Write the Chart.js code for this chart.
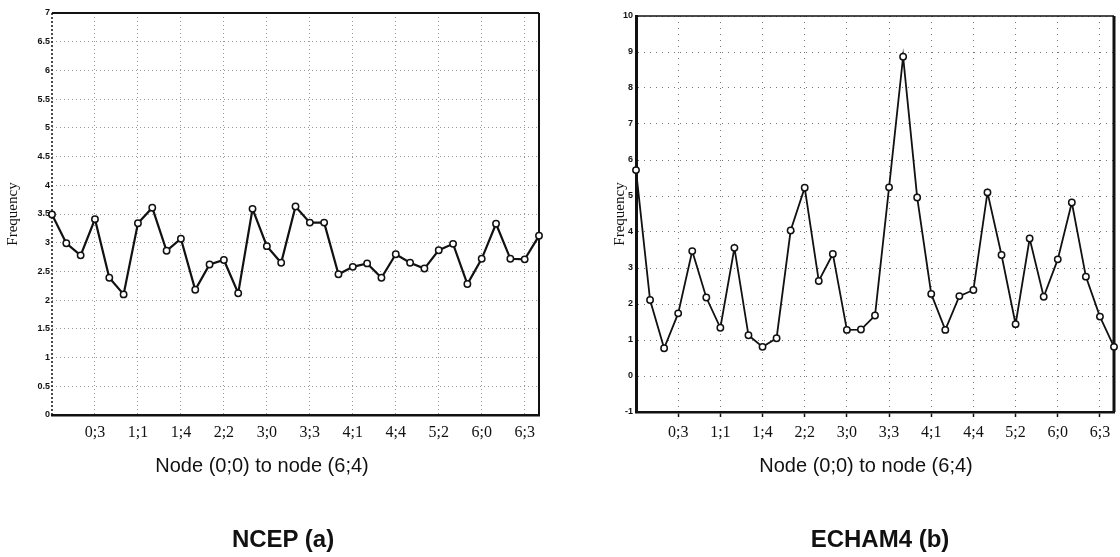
<!DOCTYPE html>
<html>
<head>
<meta charset="utf-8">
<script src="https://cdn.jsdelivr.net/npm/chart.js@4.4.0/dist/chart.umd.min.js"></script>
<style>
  body { margin: 0; background: #fff; width: 1120px; height: 557px; position: relative; overflow: hidden; font-family: 'Liberation Sans', Arial, sans-serif; color: #111; }
  .wykres { position: absolute; top: 0; width: 560px; height: 557px; }
  .tytul { position: absolute; transform: translateX(-50%); white-space: nowrap; font-size: 20px; line-height: 20px; }
  .podpis { position: absolute; transform: translateX(-50%); white-space: nowrap; font-size: 24px; line-height: 24px; font-weight: bold; }
</style>
</head>
<body>
<canvas id="wykresNcep" class="wykres" width="560" height="557" style="left:0"></canvas>
<canvas id="wykresEcham" class="wykres" width="560" height="557" style="left:560px"></canvas>
<div class="tytul" style="left:262px; top:455px">Node (0;0) to node (6;4)</div>
<div class="tytul" style="left:866px; top:455px">Node (0;0) to node (6;4)</div>
<div class="podpis" style="left:283px; top:527px">NCEP (a)</div>
<div class="podpis" style="left:880px; top:527px">ECHAM4 (b)</div>
<script>
// wezly SOM od (0;0) do (6;4)
var nodes = ['0;0', '0;1', '0;2', '0;3', '0;4',
             '1;0', '1;1', '1;2', '1;3', '1;4',
             '2;0', '2;1', '2;2', '2;3', '2;4',
             '3;0', '3;1', '3;2', '3;3', '3;4',
             '4;0', '4;1', '4;2', '4;3', '4;4',
             '5;0', '5;1', '5;2', '5;3', '5;4',
             '6;0', '6;1', '6;2', '6;3', '6;4'];
var tickNodes = ['0;3', '1;1', '1;4', '2;2', '3;0', '3;3', '4;1', '4;4', '5;2', '6;0', '6;3'];

var ncep = [3.49, 2.99, 2.78, 3.41, 2.39, 2.10, 3.34, 3.61, 2.86, 3.07,
            2.18, 2.62, 2.70, 2.12, 3.59, 2.94, 2.65, 3.63, 3.35, 3.35,
            2.45, 2.58, 2.64, 2.39, 2.80, 2.65, 2.55, 2.87, 2.98, 2.28,
            2.72, 3.33, 2.72, 2.71, 3.12];
var echam = [5.72, 2.11, 0.77, 1.74, 3.47, 2.18, 1.34, 3.56, 1.13, 0.81,
             1.05, 4.04, 5.23, 2.64, 3.39, 1.28, 1.29, 1.68, 5.24, 8.87,
             4.96, 2.28, 1.28, 2.22, 2.39, 5.10, 3.36, 1.44, 3.82, 2.20,
             3.24, 4.82, 2.76, 1.65, 0.81];

// ramka wykresu (gora, prawa, przerywana lewa)
var ramka = {
  id: 'ramka',
  beforeDatasetsDraw: function (chart, args, o) {
    var a = chart.chartArea, c = chart.ctx;
    c.save();
    c.strokeStyle = '#111';
    c.lineWidth = o.gora;
    c.beginPath(); c.moveTo(a.left, a.top); c.lineTo(a.right, a.top); c.stroke();
    c.lineWidth = o.prawa;
    c.beginPath(); c.moveTo(a.right, a.top); c.lineTo(a.right, a.bottom); c.stroke();
    if (o.lewa) {
      c.lineWidth = o.lewa;
      c.setLineDash([2, 2]);
      c.beginPath(); c.moveTo(a.left, a.top); c.lineTo(a.left, a.bottom); c.stroke();
    }
    c.restore();
  }
};

function czyEtykieta(i) {
  return tickNodes.indexOf(nodes[i]) >= 0;
}

function rysujWykres(id, dane, u) {
  return new Chart(document.getElementById(id), {
    type: 'line',
    data: {
      labels: nodes,
      datasets: [{
        data: dane,
        borderColor: '#111',
        borderWidth: u.linia,
        backgroundColor: '#fff',
        pointBackgroundColor: '#fff',
        pointBorderColor: '#111',
        pointBorderWidth: 1.5,
        pointRadius: 3.2,
        tension: 0,
        fill: false,
        clip: false
      }]
    },
    options: {
      responsive: false,
      animation: false,
      events: [],
      layout: { padding: u.padding },
      plugins: {
        legend: { display: false },
        tooltip: { enabled: false },
        ramka: u.ramka
      },
      scales: {
        x: {
          grid: {
            color: function (c) { return czyEtykieta(c.index) ? u.siatka : 'rgba(0,0,0,0)'; },
            lineWidth: 1,
            drawTicks: u.kreski > 0,
            tickLength: u.kreski,
            tickColor: function (c) { return czyEtykieta(c.index) ? '#111' : 'rgba(0,0,0,0)'; },
            tickWidth: 1.5,
            tickBorderDash: []
          },
          border: { color: '#111', width: 2.5, dash: u.kropki },
          ticks: {
            autoSkip: false,
            maxRotation: 0,
            minRotation: 0,
            padding: u.xPad,
            color: '#111',
            font: { family: 'Liberation Serif', size: 16 },
            callback: function (v, i) { return czyEtykieta(i) ? nodes[i] : ''; }
          },
          afterFit: function (s) { s.height = u.xWys; }
        },
        y: {
          min: u.min,
          max: u.max,
          grid: { color: u.siatka, lineWidth: 1, drawTicks: false },
          border: { display: u.osY > 0, color: '#111', width: u.osY || 1, dash: u.kropki },
          ticks: {
            stepSize: u.krok,
            padding: u.yPad,
            color: '#111',
            font: { family: 'Liberation Sans', size: 9, weight: 'bold' },
            callback: function (v) { return String(v); }
          },
          title: {
            display: true,
            text: 'Frequency',
            color: '#111',
            font: { family: 'Liberation Serif', size: 15 },
            padding: { top: u.tytPad, bottom: 0 }
          },
          afterFit: function (s) { s.width = u.yWys; }
        }
      }
    },
    plugins: [ramka]
  });
}

rysujWykres('wykresNcep', ncep, {
  padding: { left: 0, right: 21, top: 13, bottom: 0 },
  yWys: 52, xWys: 142, xPad: 8, yPad: 2, kreski: 0, tytPad: 4.5,
  min: 0, max: 7, krok: 0.5, osY: 0,
  siatka: '#999', kropki: [1, 3], linia: 2.2,
  ramka: { gora: 2, prawa: 2, lewa: 1.5 }
});

rysujWykres('wykresEcham', echam, {
  padding: { left: 0, right: 4, top: 16, bottom: 0 },
  yWys: 76, xWys: 145, xPad: 6, yPad: 3, kreski: 5, tytPad: 51,
  min: -1, max: 10, krok: 1, osY: 3,
  siatka: '#777', kropki: [1, 5], linia: 1.8,
  ramka: { gora: 1.5, prawa: 3, lewa: 0 }
});
</script>
</body>
</html>
